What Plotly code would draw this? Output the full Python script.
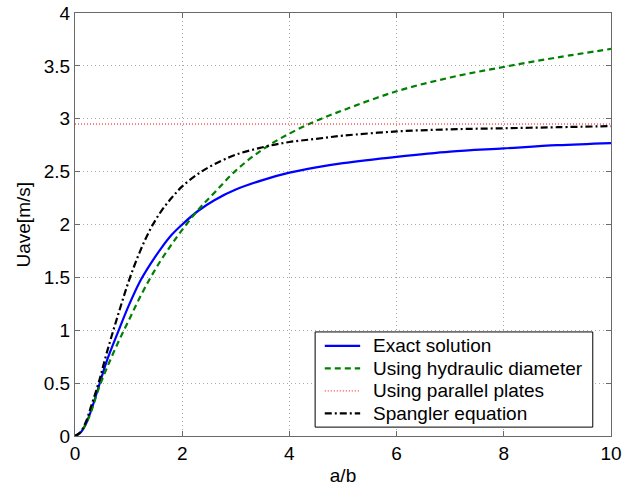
import plotly.graph_objects as go

# aspect ratio a/b
ratio = [0, 0.1, 0.2, 0.3, 0.45, 0.6, 0.8, 1.0, 1.2, 1.4, 1.6, 1.8, 2.0, 2.3,
         2.6, 3.0, 3.5, 4.0, 4.5, 5.0, 6.0, 7.0, 8.0, 9.0, 10.0]

# mean velocity [m/s] for each model
u_exact = [0, 0.03, 0.11, 0.24, 0.48, 0.72, 0.98, 1.23, 1.45, 1.62, 1.77, 1.90,
           2.00, 2.13, 2.23, 2.33, 2.42, 2.49, 2.54, 2.58, 2.64, 2.69, 2.72, 2.75, 2.77]
u_hydraulic = [0, 0.03, 0.11, 0.23, 0.46, 0.65, 0.88, 1.09, 1.30, 1.49, 1.66, 1.81,
               1.95, 2.14, 2.30, 2.51, 2.71, 2.86, 2.98, 3.08, 3.26, 3.39, 3.49, 3.58, 3.66]
u_plates = [2.95] * len(ratio)
u_spangler = [0, 0.035, 0.13, 0.28, 0.52, 0.80, 1.14, 1.46, 1.73, 1.95, 2.12, 2.25,
              2.36, 2.48, 2.57, 2.66, 2.73, 2.78, 2.81, 2.84, 2.88, 2.90, 2.91, 2.92, 2.93]

series_names = ["Exact solution", "Using hydraulic diameter",
                "Using parallel plates", "Spangler equation"]

x_ticks = [0, 2, 4, 6, 8, 10]
y_ticks = [0, 0.5, 1, 1.5, 2, 2.5, 3, 3.5, 4]

FONT = "Arial, Liberation Sans, sans-serif"
AXIS_GREY = "#6a6a6a"

line_styles = [
    dict(color="#0000ff", width=2.2),
    dict(color="#008000", width=2.2, dash="6px,4px"),
    dict(color="#ff0000", width=1, dash="1px,2px"),
    dict(color="#000000", width=2.2, dash="7px,3px,2px,3px"),
]
curves = [u_exact, u_hydraulic, u_plates, u_spangler]

fig = go.Figure()
for name, values, style in zip(series_names, curves, line_styles):
    shape = "linear" if name == "Using parallel plates" else "spline"
    fig.add_trace(go.Scatter(x=ratio, y=values, mode="lines", name=name,
                             line=dict(**style, shape=shape, smoothing=1.0),
                             showlegend=False))

axis_common = dict(
    showline=True, linecolor=AXIS_GREY, linewidth=1, mirror="ticks",
    ticks="inside", ticklen=5, tickcolor=AXIS_GREY,
    showgrid=True, gridcolor="#a8a8a8", griddash="1px,3px", gridwidth=1,
    zeroline=False, automargin=False,
    tickfont=dict(family=FONT, size=19, color="#000"),
)

fig.update_xaxes(range=[0, 10], tickvals=x_ticks, ticktext=[str(v) for v in x_ticks],
                 title=dict(text="a/b", font=dict(family=FONT, size=19, color="#000"), standoff=5),
                 **axis_common)
fig.update_yaxes(range=[0, 4], tickvals=y_ticks, ticktext=[f"{v:g}" for v in y_ticks],
                 **axis_common)

# boxed key in the lower right of the axes (paper coordinates)
key_left, key_right = 0.448, 0.966
key_bottom, key_top = 0.021, 0.246
row_step = 0.0532
first_row = 0.213
sample_x0, sample_x1 = 0.466, 0.532
text_x = 0.553

shapes = [dict(type="rect", xref="paper", yref="paper",
               x0=key_left, x1=key_right, y0=key_bottom, y1=key_top,
               line=dict(color="#000", width=1), fillcolor="white", layer="above")]
annotations = [
    # vertical axis label
    dict(xref="paper", yref="paper", x=-0.097, y=0.5, xanchor="center", yanchor="middle",
         textangle=-90, showarrow=False, text="Uave[m/s]",
         font=dict(family=FONT, size=19, color="#000")),
]
for i, (name, style) in enumerate(zip(series_names, line_styles)):
    yy = first_row - i * row_step
    shapes.append(dict(type="line", xref="paper", yref="paper",
                       x0=sample_x0, x1=sample_x1, y0=yy, y1=yy,
                       line=style, layer="above"))
    annotations.append(dict(xref="paper", yref="paper", x=text_x, y=yy,
                            xanchor="left", yanchor="middle", showarrow=False,
                            text=name, font=dict(family=FONT, size=19, color="#000")))

fig.update_layout(
    width=622, height=487,
    margin=dict(l=75, r=11, t=13, b=51),
    paper_bgcolor="white", plot_bgcolor="white",
    showlegend=False,
    shapes=shapes, annotations=annotations,
)

fig.write_html("out.html")
